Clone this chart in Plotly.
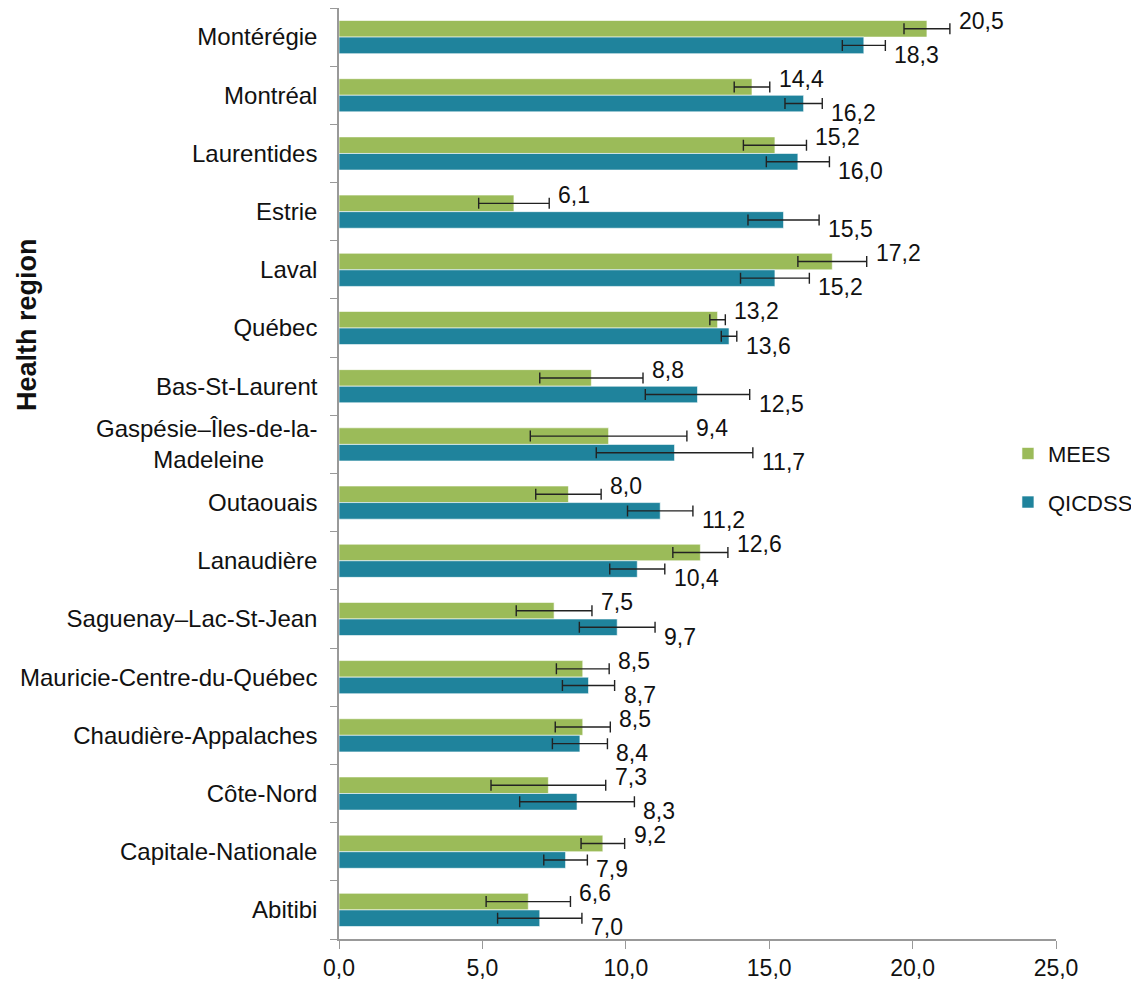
import plotly.graph_objects as go

regions = ["Montérégie", "Montréal", "Laurentides", "Estrie", "Laval", "Québec",
           "Bas-St-Laurent", "Gaspésie–Îles-de-la-Madeleine", "Outaouais", "Lanaudière",
           "Saguenay–Lac-St-Jean", "Mauricie-Centre-du-Québec", "Chaudière-Appalaches",
           "Côte-Nord", "Capitale-Nationale", "Abitibi"]
mees = [20.5, 14.4, 15.2, 6.1, 17.2, 13.2, 8.8, 9.4, 8.0, 12.6, 7.5, 8.5, 8.5, 7.3, 9.2, 6.6]
mees_err = [0.8, 0.62, 1.1, 1.23, 1.2, 0.27, 1.8, 2.73, 1.14, 0.96, 1.32, 0.92, 0.96, 2.0, 0.76, 1.47]
qicdss = [18.3, 16.2, 16.0, 15.5, 15.2, 13.6, 12.5, 11.7, 11.2, 10.4, 9.7, 8.7, 8.4, 8.3, 7.9, 7.0]
qicdss_err = [0.75, 0.65, 1.1, 1.24, 1.2, 0.27, 1.82, 2.73, 1.14, 0.96, 1.32, 0.91, 0.96, 2.0, 0.76, 1.47]
x_ticks = [0, 5, 10, 15, 20, 25]

GREEN = "#9BBB59"
TEAL = "#1F839C"
FONT = "Liberation Sans, Arial, sans-serif"

def tick_label(name):
    if name == "Gaspésie–Îles-de-la-Madeleine":
        return "Gaspésie–Îles-de-la-<br>Madeleine" + "\u00a0" * 8
    return name

fig = go.Figure()
for name, vals, errs, col in [("MEES", mees, mees_err, GREEN), ("QICDSS", qicdss, qicdss_err, TEAL)]:
    fig.add_trace(go.Bar(
        name=name, legendgroup=name, y=regions, x=vals, orientation="h",
        marker=dict(color=col, line=dict(color="rgba(255,255,255,0.6)", width=1)),
        error_x=dict(type="data", array=errs, visible=True, color="#222222", thickness=1.4, width=5.5),
    ))

annotations = []
n = len(regions)
for i, r in enumerate(regions):
    for vals, errs, yshift, off in [(mees, mees_err, 2, -0.25), (qicdss, qicdss_err, -3, 0.25)]:
        annotations.append(dict(
            x=vals[i] + errs[i], y=i + off, xref="x", yref="y",
            text=f"{vals[i]:.1f}".replace(".", ","), showarrow=False,
            xanchor="left", yanchor="middle", xshift=7, yshift=yshift,
            font=dict(family=FONT, size=23, color="#111111"),
        ))

annotations.append(dict(
    text="<b>Health region</b>", xref="paper", yref="paper", x=-0.436, y=0.66,
    textangle=-90, showarrow=False, xanchor="center", yanchor="middle",
    font=dict(family=FONT, size=27, color="#111111"),
))

fig.update_layout(
    width=1139, height=987,
    margin=dict(l=331, r=91, t=0, b=56, autoexpand=False),
    paper_bgcolor="white", plot_bgcolor="white",
    barmode="group", bargap=0.43, bargroupgap=0,
    separators=", ",
    font=dict(family=FONT, size=18, color="#111111"),
    legend=dict(x=0.933, y=0.495, xanchor="left", yanchor="middle",
                traceorder="grouped", font=dict(family=FONT, size=22),
                itemwidth=30, tracegroupgap=17, bgcolor="rgba(0,0,0,0)"),
    annotations=annotations,
    showlegend=True,
)
fig.update_xaxes(range=[0, 25], tickvals=x_ticks, tickformat=".1f",
                 ticks="outside", ticklen=8, tickcolor="#999999",
                 showline=True, linecolor="#999999", linewidth=1.5,
                 showgrid=False, zeroline=False, automargin=False,
                 tickfont=dict(family=FONT, size=23, color="#111111"))
fig.update_yaxes(type="category", autorange="reversed",
                 tickvals=list(range(n)), ticktext=[tick_label(r) for r in regions],
                 tickson="boundaries", ticks="outside", ticklen=7, tickcolor="#999999",
                 showline=True, linecolor="#999999", linewidth=1.5,
                 showgrid=False, zeroline=False, ticklabelstandoff=15, automargin=False,
                 tickfont=dict(family=FONT, size=24, color="#111111"))

fig.write_html("out.html")
